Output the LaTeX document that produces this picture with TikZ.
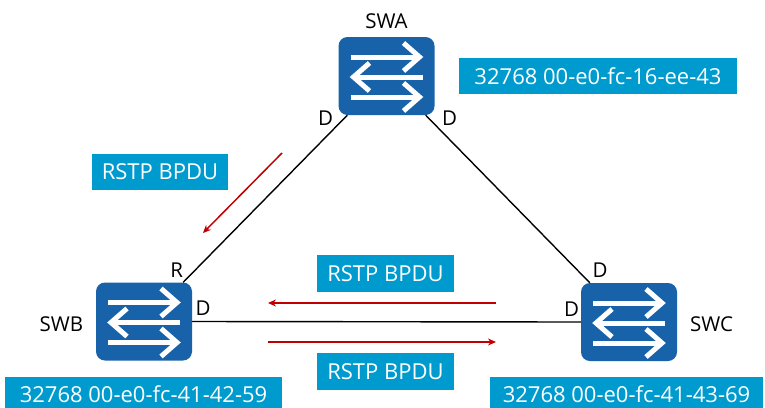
\documentclass[tikz,border=0pt]{standalone}
\usepackage{fontspec}
\setmainfont{Open Sans}
\usetikzlibrary{arrows.meta}
\definecolor{swblue}{RGB}{24,98,170}
\definecolor{tagcyan}{RGB}{0,155,206}
\definecolor{bpdured}{RGB}{192,0,0}
\begin{document}
\begin{tikzpicture}[x=1pt,y=-1pt,>={Stealth[length=8pt,width=7pt]}, font=\fontsize{20.5}{24}\selectfont, line join=round,
	switchbox/.style={fill=swblue, rounded corners=9pt, minimum width=96pt, minimum height=78pt, inner sep=0pt},
	tag/.style={fill=tagcyan, text=white, minimum height=36pt, inner sep=0pt, font=\fontsize{22}{26}\selectfont},
	bpdu/.style={draw=bpdured, line width=1.5pt, ->}]
		\useasboundingbox (0,0) rectangle (765,407);
		\clip (0,0) rectangle (765,407);
		\node[switchbox] (swa) at (386.5,76) {};
		\node[switchbox] (swb) at (144,321.5) {};
		\node[switchbox] (swc) at (629,322) {};
		\foreach \s in {swa,swb,swc}{
			\begin{scope}[shift={(\s.center)}, white, line width=5pt]
				\draw[line cap=butt] (-36,-19)--(30,-19) (-30,1)--(36,1) (-36,21)--(30,21);
				\draw[line cap=butt, line join=miter] (17,-33)--(33,-19)--(17,-5) (-17,-13)--(-33,1)--(-17,15) (17,7)--(33,21)--(17,35);
			\end{scope}
		}
		\draw[line width=1.4pt] (swa.225)--(swb.45) (swa.315)--(swc.135) (swb.east)--(swc.west);
		\node (lswa) at (386.5,21.5) {SWA};
		\node (lswb) at (61.5,324) {SWB};
		\node (lswc) at (711.5,324) {SWC};
		\node (pa1) at (325.5,117.7) {D};
		\node (pa2) at (449.7,117.7) {D};
		\node (pb1) at (176.7,270) {R};
		\node (pb2) at (203,308.5) {D};
		\node (pc1) at (600,270.5) {D};
		\node (pc2) at (571.5,309) {D};
		\node[tag, minimum width=278pt] (maca) at (598,76) {32768 00-e0-fc-16-ee-43};
		\node[tag, minimum width=277pt] (macb) at (143.5,394.5) {32768 00-e0-fc-41-42-59};
		\node[tag, minimum width=273pt] (macc) at (626.5,394.5) {32768 00-e0-fc-41-43-69};
		\node[tag, minimum width=136pt] (bp1) at (160,172) {RSTP BPDU};
		\node[tag, minimum width=137pt, minimum height=37pt] (bp2) at (385.5,273.5) {RSTP BPDU};
		\node[tag, minimum width=137pt, minimum height=37pt] (bp3) at (385.5,371.5) {RSTP BPDU};
		\coordinate (ab1) at (282,153); \coordinate (ab2) at (203,233);
		\coordinate (cb1) at (496,303); \coordinate (cb2) at (268,303);
		\coordinate (bc1) at (268,342); \coordinate (bc2) at (496,342);
		\draw[bpdu] (ab1)--(ab2);
		\draw[bpdu] (cb1)--(cb2);
		\draw[bpdu] (bc1)--(bc2);
\end{tikzpicture}
\end{document}
